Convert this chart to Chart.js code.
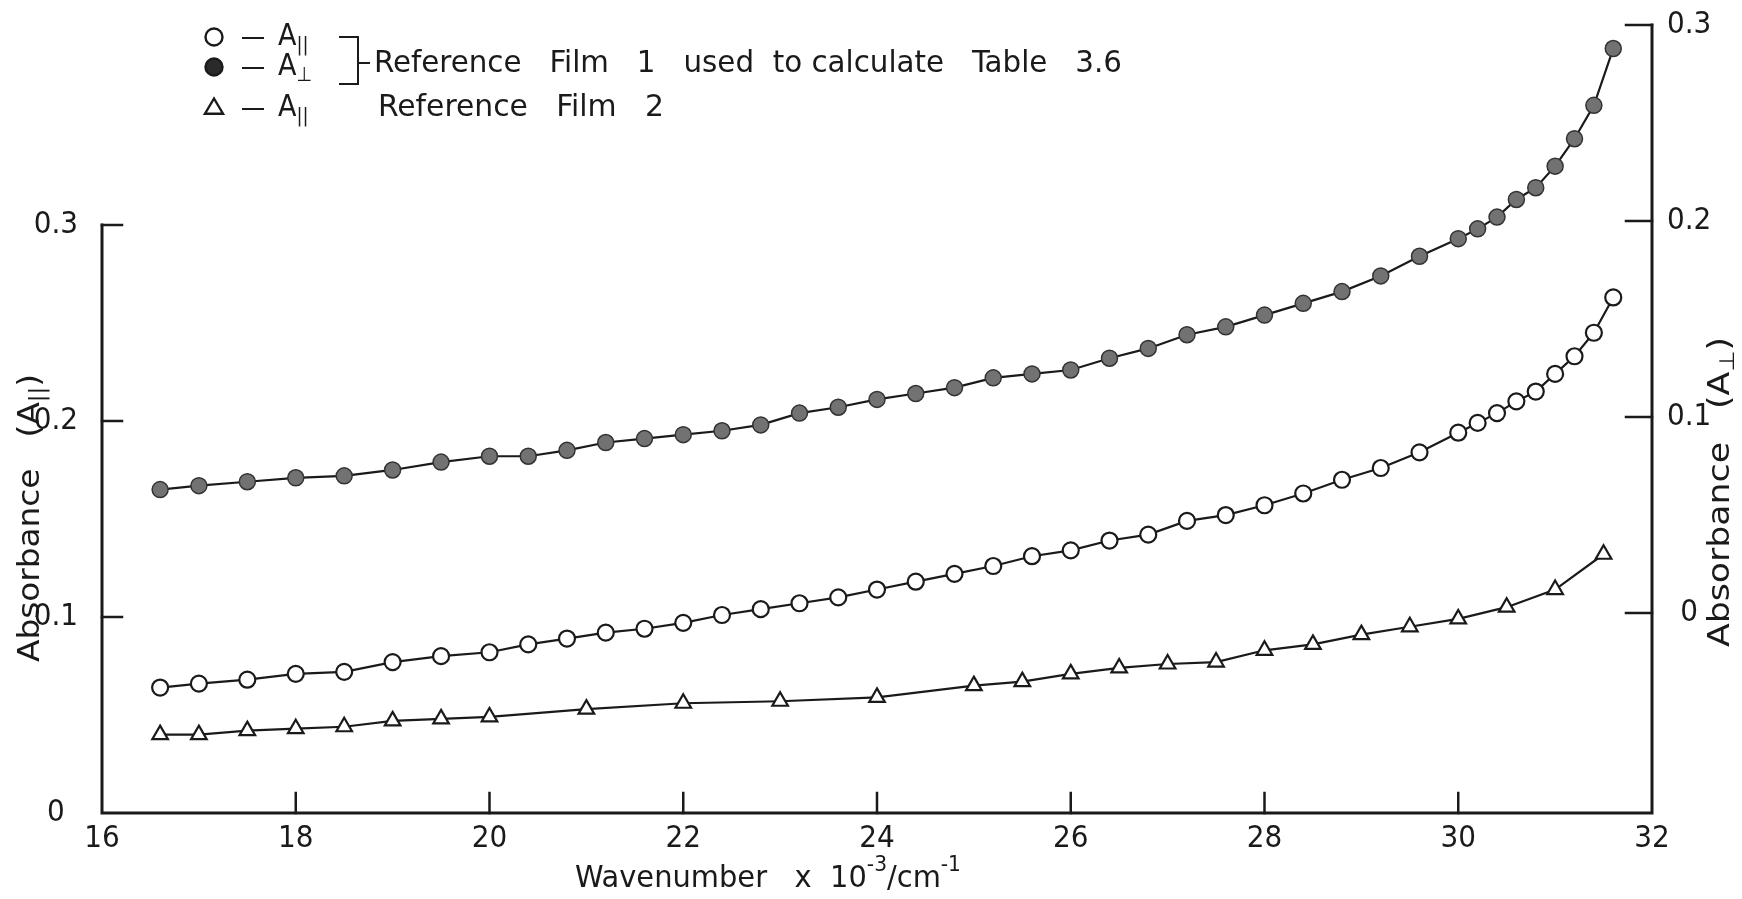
<!DOCTYPE html>
<html lang="en">
<head>
<meta charset="UTF-8">
<title>Absorbance of reference films</title>
<script src="https://cdn.jsdelivr.net/npm/chart.js"></script>
<style>
    body { margin: 0; background: #fff; }
    #wrap { width: 1742px; height: 899px; }
</style>
</head>
<body>
<div id="wrap"><canvas id="absChart" width="1742" height="899"></canvas></div>
<script>
// wavenumber x 10^-3 / cm^-1
const wavenumber = [16.6, 17, 17.5, 18, 18.5, 19, 19.5, 20, 20.4, 20.8, 21.2, 21.6, 22, 22.4, 22.8, 23.2, 23.6, 24,
    24.4, 24.8, 25.2, 25.6, 26, 26.4, 26.8, 27.2, 27.6, 28, 28.4, 28.8, 29.2, 29.6, 30,
    30.2, 30.4, 30.6, 30.8, 31, 31.2, 31.4, 31.6];
// film 1, parallel (left axis)
const aParFilm1 = [0.064, 0.066, 0.068, 0.071, 0.072, 0.077, 0.080, 0.082, 0.086, 0.089, 0.092, 0.094, 0.097, 0.101, 0.104, 0.107, 0.110, 0.114,
    0.118, 0.122, 0.126, 0.131, 0.134, 0.139, 0.142, 0.149, 0.152, 0.157, 0.163, 0.170, 0.176, 0.184, 0.194,
    0.199, 0.204, 0.210, 0.215, 0.224, 0.233, 0.245, 0.263];
// film 1, perpendicular (right axis)
const aPerpFilm1 = [0.063, 0.065, 0.067, 0.069, 0.070, 0.073, 0.077, 0.080, 0.080, 0.083, 0.087, 0.089, 0.091, 0.093, 0.096, 0.102, 0.105, 0.109,
    0.112, 0.115, 0.120, 0.122, 0.124, 0.130, 0.135, 0.142, 0.146, 0.152, 0.158, 0.164, 0.172, 0.182, 0.191,
    0.196, 0.202, 0.211, 0.217, 0.228, 0.242, 0.259, 0.288];
// film 2, parallel (left axis)
const wnFilm2 = [16.6, 17, 17.5, 18, 18.5, 19, 19.5, 20, 21, 22, 23, 24, 25, 25.5, 26, 26.5, 27, 27.5, 28, 28.5, 29, 29.5, 30, 30.5, 31, 31.5];
const aParFilm2 = [0.040, 0.040, 0.042, 0.043, 0.044, 0.047, 0.048, 0.049, 0.053, 0.056, 0.057, 0.059,
    0.065, 0.067, 0.071, 0.074, 0.076, 0.077, 0.083, 0.086, 0.091, 0.095, 0.099, 0.105, 0.114, 0.132];

const xTicks = [16, 18, 20, 22, 24, 26, 28, 30, 32];
const leftTicks = [0, 0.1, 0.2, 0.3];
const rightTicks = [0, 0.1, 0.2, 0.3];

const FONT = '"DejaVu Sans Condensed", "Liberation Sans Narrow", "DejaVu Sans", sans-serif';
const INK = '#1a1a1a';

const toXY = (xs, ys) => xs.map((x, i) => ({ x: x, y: ys[i] }));
const fmt = v => (Math.abs(v) < 1e-9 ? '0' : v.toFixed(1));

// text made of pieces with their own size / vertical shift (sub- and superscripts)
function richText(ctx, parts, x, y) {
    let cx = x;
    parts.forEach(p => {
        ctx.font = p.size + 'px ' + FONT;
        ctx.fillText(p.t, cx, y + (p.dy || 0));
        cx += ctx.measureText(p.t).width;
    });
}
function richWidth(ctx, parts) {
    let w = 0;
    parts.forEach(p => {
        ctx.font = p.size + 'px ' + FONT;
        w += ctx.measureText(p.t).width;
    });
    return w;
}
// draws the pieces stretched to a given width, starting at x (or centred on it)
function fitText(ctx, parts, x, y, width, centred) {
    const w = richWidth(ctx, parts);
    ctx.save();
    ctx.translate(x, y);
    ctx.scale(width / w, 1);
    richText(ctx, parts, centred ? -w / 2 : 0, 0);
    ctx.restore();
}

function marker(ctx, kind, x, y) {
    ctx.save();
    ctx.lineWidth = 2.4;
    ctx.strokeStyle = INK;
    ctx.beginPath();
    if (kind === 'triangle') {
        const r = 9.5;
        ctx.moveTo(x, y - r);
        ctx.lineTo(x + r * 0.95, y + r * 0.6);
        ctx.lineTo(x - r * 0.95, y + r * 0.6);
        ctx.closePath();
        ctx.fillStyle = '#fff';
    } else {
        ctx.arc(x, y, 8.5, 0, Math.PI * 2);
        ctx.fillStyle = kind === 'filled' ? '#2a2a2a' : '#fff';
    }
    ctx.fill();
    ctx.stroke();
    ctx.restore();
}

const frame = {
    id: 'frame',
    beforeDatasetsDraw(chart) {
        const { ctx, chartArea: a, scales } = chart;
        const xs = scales.x, yl = scales.yL, yr = scales.yR;
        ctx.save();
        ctx.strokeStyle = INK;
        ctx.lineCap = 'square';
        ctx.lineWidth = 3;
        ctx.beginPath();
        // left axis only spans 0 .. 0.3
        ctx.moveTo(a.left, yl.getPixelForValue(0.3));
        ctx.lineTo(a.left, a.bottom);
        ctx.lineTo(a.right, a.bottom);
        ctx.lineTo(a.right, yr.getPixelForValue(0.3));
        ctx.stroke();

        ctx.lineWidth = 2.5;
        ctx.beginPath();
        leftTicks.forEach(v => {
            if (v === 0) return;
            const py = yl.getPixelForValue(v);
            ctx.moveTo(a.left, py);
            ctx.lineTo(a.left + 20, py);
        });
        rightTicks.forEach(v => {
            const py = yr.getPixelForValue(v);
            ctx.moveTo(a.right, py);
            ctx.lineTo(a.right - 26, py);
        });
        xTicks.forEach(v => {
            if (v === 16 || v === 32) return;
            const px = xs.getPixelForValue(v);
            ctx.moveTo(px, a.bottom);
            ctx.lineTo(px, a.bottom - 20);
        });
        ctx.stroke();
        ctx.restore();
    },
    afterDraw(chart) {
        const { ctx } = chart;
        ctx.save();
        ctx.fillStyle = INK;
        ctx.textBaseline = 'middle';
        ctx.textAlign = 'left';

        // x axis title
        const xt = [
            { t: 'Wavenumber   x  10', size: 30 },
            { t: '-3', size: 21, dy: -13 },
            { t: '/cm', size: 30 },
            { t: '-1', size: 21, dy: -13 }
        ];
        fitText(ctx, xt, 768, 879, 386, true);

        // left y title
        ctx.save();
        ctx.translate(31, 518);
        ctx.rotate(-Math.PI / 2);
        fitText(ctx, [
            { t: 'Absorbance   (A', size: 30 },
            { t: '||', size: 21, dy: 8 },
            { t: ')', size: 30 }
        ], 0, 0, 288, true);
        ctx.restore();

        // right y title
        ctx.save();
        ctx.translate(1721, 492);
        ctx.rotate(-Math.PI / 2);
        fitText(ctx, [
            { t: 'Absorbance   (A', size: 30 },
            { t: '⊥', size: 21, dy: 8 },
            { t: ')', size: 30 }
        ], 0, 0, 310, true);
        ctx.restore();

        // key
        const rows = [
            { kind: 'open', y: 37, sub: '||' },
            { kind: 'filled', y: 67, sub: '⊥' },
            { kind: 'triangle', y: 108, sub: '||' }
        ];
        ctx.lineWidth = 2;
        ctx.strokeStyle = INK;
        rows.forEach(r => {
            marker(ctx, r.kind, 214, r.y);
            ctx.beginPath();
            ctx.moveTo(242, r.y + 1);
            ctx.lineTo(264, r.y + 1);
            ctx.stroke();
            richText(ctx, [{ t: 'A', size: 30 }, { t: r.sub, size: 20, dy: 9 }], 278, r.y);
        });
        // bracket joining the two film 1 rows
        ctx.beginPath();
        ctx.moveTo(339, 37);
        ctx.lineTo(358, 37);
        ctx.lineTo(358, 84);
        ctx.lineTo(339, 84);
        ctx.moveTo(358, 63);
        ctx.lineTo(370, 63);
        ctx.stroke();
        fitText(ctx, [{ t: 'Reference   Film   1   used  to calculate   Table   3.6', size: 30 }], 374, 64, 748, false);
        fitText(ctx, [{ t: 'Reference   Film   2', size: 30 }], 378, 108, 286, false);
        ctx.restore();
    }
};

const tickFont = { family: FONT, size: 31 };
const noPadY = s => { s.paddingTop = 0; s.paddingBottom = 0; };

new Chart(document.getElementById('absChart'), {
    type: 'scatter',
    data: {
        datasets: [
            {
                label: 'A∥ Reference Film 1',
                data: toXY(wavenumber, aParFilm1),
                yAxisID: 'yL',
                showLine: true,
                borderColor: INK,
                borderWidth: 2.2,
                pointRadius: 8,
                pointBorderWidth: 2.2,
                pointBorderColor: INK,
                pointBackgroundColor: '#fff'
            },
            {
                label: 'A⊥ Reference Film 1',
                data: toXY(wavenumber, aPerpFilm1),
                yAxisID: 'yR',
                showLine: true,
                borderColor: INK,
                borderWidth: 2.2,
                pointRadius: 8,
                pointBorderWidth: 1.5,
                pointBorderColor: '#333',
                pointBackgroundColor: '#727272'
            },
            {
                label: 'A∥ Reference Film 2',
                data: toXY(wnFilm2, aParFilm2),
                yAxisID: 'yL',
                showLine: true,
                borderColor: INK,
                borderWidth: 2.2,
                pointStyle: 'triangle',
                pointRadius: 9,
                pointBorderWidth: 2.2,
                pointBorderColor: INK,
                pointBackgroundColor: '#fff'
            }
        ]
    },
    options: {
        responsive: false,
        animation: false,
        layout: { padding: { top: 25 } },
        plugins: {
            legend: { display: false },
            tooltip: { enabled: false }
        },
        scales: {
            x: {
                type: 'linear',
                min: 16,
                max: 32,
                afterBuildTicks: s => { s.ticks = xTicks.map(v => ({ value: v })); },
                afterFit: s => { s.height = 86; s.paddingLeft = 0; s.paddingRight = 0; },
                grid: { display: false, drawTicks: false },
                border: { display: false },
                ticks: { color: INK, font: tickFont, padding: 7, callback: v => String(v), maxRotation: 0 }
            },
            yL: {
                type: 'linear',
                position: 'left',
                min: 0,
                max: 0.402,
                afterBuildTicks: s => { s.ticks = leftTicks.map(v => ({ value: v })); },
                afterFit: s => { s.width = 102; noPadY(s); },
                grid: { display: false, drawTicks: false },
                border: { display: false },
                ticks: { color: INK, font: tickFont, padding: 24, crossAlign: 'center', callback: v => fmt(v) }
            },
            yR: {
                type: 'linear',
                position: 'right',
                min: -0.102,
                max: 0.3,
                afterBuildTicks: s => { s.ticks = rightTicks.map(v => ({ value: v })); },
                afterFit: s => { s.width = 90; noPadY(s); },
                grid: { display: false, drawTicks: false },
                border: { display: false },
                ticks: { color: INK, font: tickFont, padding: 15, crossAlign: 'center', callback: v => fmt(v) }
            }
        }
    },
    plugins: [frame]
});
</script>
</body>
</html>
